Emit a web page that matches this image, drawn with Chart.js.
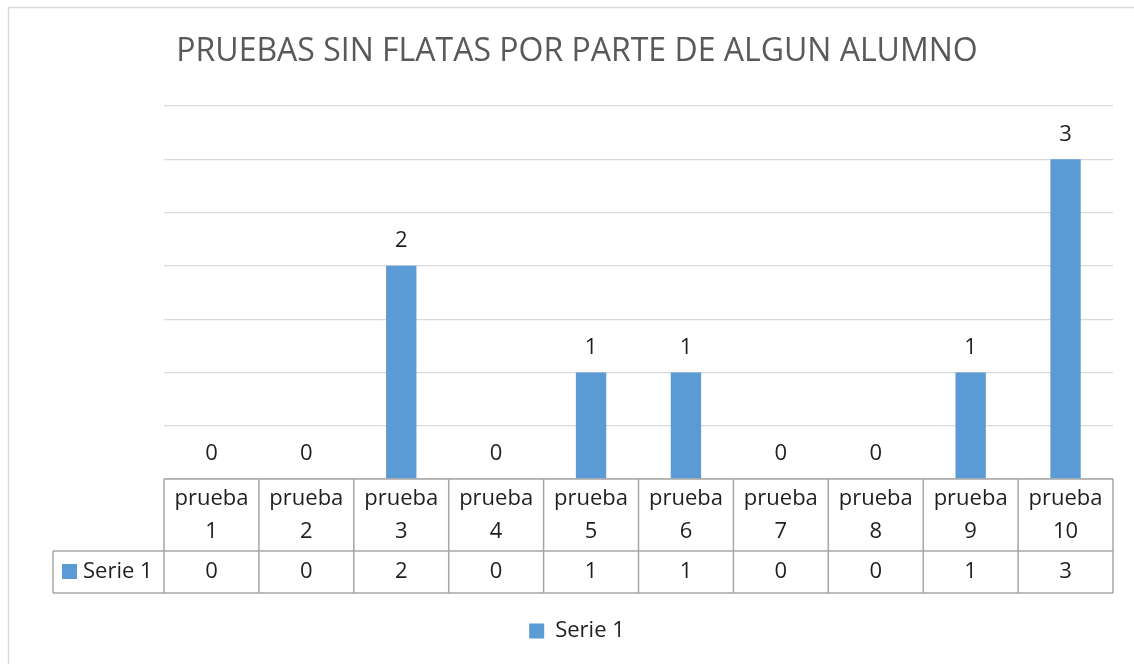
<!DOCTYPE html>
<html>
<head>
<meta charset="utf-8">
<script src="https://cdn.jsdelivr.net/npm/chart.js@4/dist/chart.umd.min.js"></script>
<style>
    html, body { margin: 0; padding: 0; background: #fff; overflow: hidden; }
    #wrap { width: 1134px; height: 664px; position: relative; }
</style>
</head>
<body>
<div id="wrap"><canvas id="grafico"></canvas></div>
<script>
// datos del grafico
var titulo = 'PRUEBAS SIN FLATAS POR PARTE DE ALGUN ALUMNO';
var categorias = ['prueba 1', 'prueba 2', 'prueba 3', 'prueba 4', 'prueba 5', 'prueba 6', 'prueba 7', 'prueba 8', 'prueba 9', 'prueba 10'];
var valores = [0, 0, 2, 0, 1, 1, 0, 0, 1, 3];
var nombreSerie = 'Serie 1';
var ejeMax = 3.5;
var ejePaso = 0.5;

var fuente = '"Open Sans", "DejaVu Sans", sans-serif';
var azul = '#5b9bd5';

// marco exterior del grafico
const marco = {
    id: 'marco',
    beforeDraw(chart) {
        const ctx = chart.ctx;
        ctx.save();
        ctx.fillStyle = '#fff';
        ctx.fillRect(0, 0, chart.width, chart.height);
        ctx.strokeStyle = '#d9d9d9';
        ctx.lineWidth = 1.5;
        ctx.strokeRect(8.5, 7.5, 1300, 800);
        ctx.restore();
    }
};

// etiquetas de valor encima de las barras
const etiquetas = {
    id: 'etiquetas',
    afterDatasetsDraw(chart) {
        const ctx = chart.ctx;
        const meta = chart.getDatasetMeta(0);
        ctx.save();
        ctx.font = '22px ' + fuente;
        ctx.fillStyle = '#1f1f1f';
        ctx.textAlign = 'center';
        ctx.textBaseline = 'middle';
        meta.data.forEach(function (bar, i) {
            ctx.fillText(String(valores[i]), bar.x, bar.y - 25);
        });
        ctx.restore();
    }
};

// tabla de datos bajo el eje
const tabla = {
    id: 'tabla',
    afterDraw(chart) {
        const ctx = chart.ctx;
        const area = chart.chartArea;
        const x = chart.scales.x;
        const colW = (area.right - area.left) / categorias.length;
        const top = area.bottom;
        const fila1 = top + 72;
        const fila2 = fila1 + 42;
        const izq = 53;

        ctx.save();
        ctx.strokeStyle = '#a6a6a6';
        ctx.lineWidth = 1.5;
        ctx.beginPath();
        ctx.moveTo(area.left, top);
        ctx.lineTo(area.right, top);
        ctx.moveTo(izq, fila1);
        ctx.lineTo(area.right, fila1);
        ctx.moveTo(izq, fila2);
        ctx.lineTo(area.right, fila2);
        ctx.moveTo(izq, fila1);
        ctx.lineTo(izq, fila2);
        for (var i = 0; i <= categorias.length; i++) {
            var cx = area.left + i * colW;
            ctx.moveTo(cx, top);
            ctx.lineTo(cx, fila2);
        }
        ctx.stroke();

        ctx.font = '22px ' + fuente;
        ctx.fillStyle = '#1f1f1f';
        ctx.textAlign = 'center';
        ctx.textBaseline = 'middle';
        for (var j = 0; j < categorias.length; j++) {
            var px = x.getPixelForValue(j);
            var partes = categorias[j].split(' ');
            ctx.fillText(partes[0], px, top + 20);
            ctx.fillText(partes[1], px, top + 53);
            ctx.fillText(String(valores[j]), px, fila1 + 21);
        }

        ctx.fillStyle = azul;
        ctx.fillRect(62, fila1 + 13, 15, 15);
        ctx.fillStyle = '#1f1f1f';
        ctx.textAlign = 'left';
        ctx.fillText(nombreSerie, 83, fila1 + 21);
        ctx.restore();
    }
};

new Chart(document.getElementById('grafico'), {
    type: 'bar',
    data: {
        labels: categorias,
        datasets: [
            {
                label: nombreSerie,
                data: valores,
                backgroundColor: azul,
                categoryPercentage: 0.4,
                barPercentage: 0.8
            }
        ]
    },
    options: {
        responsive: true,
        maintainAspectRatio: false,
        animation: false,
        layout: {
            padding: { left: 41, right: 21, top: 0, bottom: 12 }
        },
        scales: {
            x: {
                display: true,
                grid: { display: false },
                border: { display: false },
                ticks: { display: false },
                afterFit: function (s) { s.height = 131; }
            },
            y: {
                min: 0,
                max: ejeMax,
                grid: { color: '#d9d9d9', lineWidth: 1.2, drawTicks: false },
                border: { display: false },
                ticks: { display: false, stepSize: ejePaso },
                afterFit: function (s) { s.width = 123; }
            }
        },
        plugins: {
            title: {
                display: true,
                text: titulo,
                color: '#595959',
                font: { family: fuente, size: 32, weight: 'normal' },
                padding: { top: 33, bottom: 34.6 }
            },
            legend: {
                position: 'bottom',
                labels: {
                    color: '#1f1f1f',
                    font: { family: fuente, size: 22 },
                    boxWidth: 15,
                    boxHeight: 15,
                    padding: 10
                }
            },
            tooltip: { enabled: false }
        }
    },
    plugins: [marco, etiquetas, tabla]
});
</script>
</body>
</html>
